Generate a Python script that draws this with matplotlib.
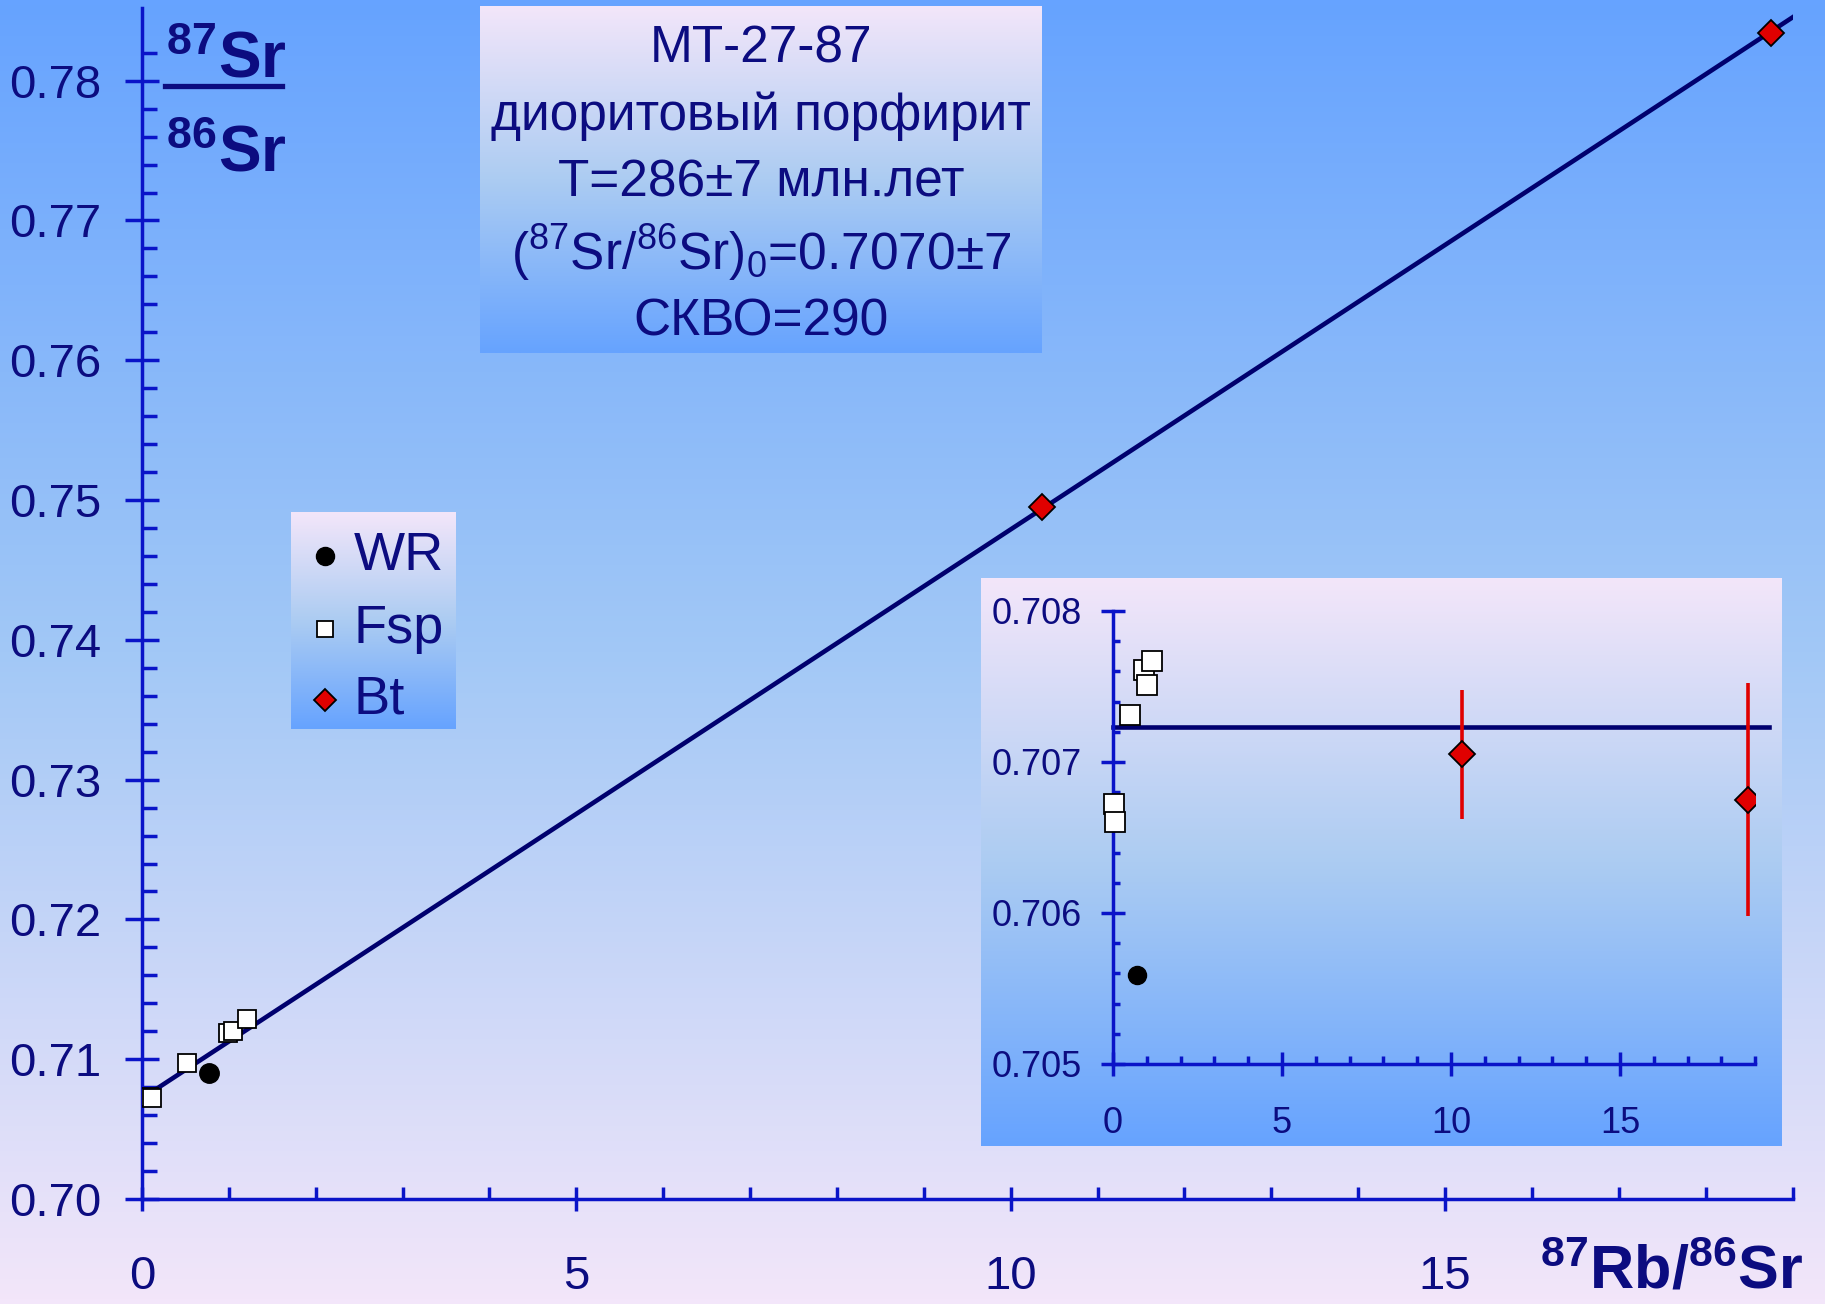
import numpy as np
import matplotlib
matplotlib.use("Agg")
import matplotlib.pyplot as plt
from matplotlib.colors import LinearSegmentedColormap
from matplotlib.lines import Line2D
from matplotlib.ticker import MultipleLocator, FixedLocator

plt.rcParams['font.family'] = ['Liberation Sans', 'DejaVu Sans']
plt.rcParams['mathtext.fontset'] = 'custom'
plt.rcParams['mathtext.rm'] = 'Liberation Sans'
plt.rcParams['mathtext.it'] = 'Liberation Sans:italic'
plt.rcParams['mathtext.bf'] = 'Liberation Sans:bold'

# --- data: main isochron (87Rb/86Sr, 87Sr/86Sr)
wr_x = [0.77]
wr_y = [0.7090]
fsp_x = [0.08, 0.12, 0.52, 0.99, 1.05, 1.21]
fsp_y = [0.7073, 0.7072, 0.7097, 0.7119, 0.7120, 0.7129]
bt_x = [10.36, 18.75]
bt_y = [0.7495, 0.7834]
fit_x = [0.1, 19.0]
fit_intercept = 0.7072
fit_slope = 0.00407

# --- data: inset (initial ratios)
in_wr_x = [0.70]
in_wr_y = [0.70559]
in_fsp_x = [0.02, 0.05, 0.49, 0.93, 1.00, 1.15]
in_fsp_y = [0.70672, 0.70660, 0.70731, 0.70761, 0.70751, 0.70767]
in_bt_x = [10.33, 18.78]
in_bt_y = [0.70705, 0.70675]
in_bt_err = [0.00043, 0.00077]
in_level = 0.70723
in_level_x = [0.0, 19.4]

title_lines = ['МТ-27-87', 'диоритовый порфирит', 'Т=286±7 млн.лет',
               '(' + r'$^{87}$' + 'Sr/' + r'$^{86}$' + 'Sr)' + r'$_0$' + '=0.7070±7',
               'СКВО=290']

NAVY = '#0c0c80'
SPINE = '#0a14c8'
LINE = '#00006e'
RED = '#e00000'

fig = plt.figure(figsize=(18.25, 13.04), dpi=100)
W, H = 1825, 1304


def rect(x0, y0, x1, y1):
    return [x0 / W, 1 - y1 / H, (x1 - x0) / W, (y1 - y0) / H]


def gradient_box(r, colors, z=0):
    a = fig.add_axes(r, zorder=z)
    cmap = LinearSegmentedColormap.from_list('g', colors)
    a.imshow(np.linspace(0, 1, 256).reshape(-1, 1), aspect='auto', cmap=cmap,
             extent=[0, 1, 0, 1], origin='upper')
    a.set_xlim(0, 1)
    a.set_ylim(0, 1)
    a.axis('off')
    return a


# page background: blue at top, lavender at bottom
gradient_box([0, 0, 1, 1], [(0.0, '#66a3ff'), (0.5, '#a2c8f6'), (1.0, '#f3e6fa')], z=-5)
box_colors = [(0.0, '#f3e6fa'), (0.5, '#acccf2'), (1.0, '#66a3ff')]

# --- main axes
ax = fig.add_axes(rect(142, 8, 142 + 19 * 86.87, 1199))
ax.patch.set_alpha(0)
ax.set_xlim(0, 19)
ax.set_ylim(0.70, 0.7852)
for s in ['top', 'right']:
    ax.spines[s].set_visible(False)
for s in ['left', 'bottom']:
    ax.spines[s].set_color(SPINE)
    ax.spines[s].set_linewidth(2.5)

ax.xaxis.set_major_locator(FixedLocator([0, 5, 10, 15]))
ax.xaxis.set_minor_locator(MultipleLocator(1))
ax.yaxis.set_major_locator(MultipleLocator(0.01))
ax.yaxis.set_minor_locator(FixedLocator(np.arange(0.70, 0.7835, 0.002)))
ax.yaxis.set_major_formatter(matplotlib.ticker.FormatStrFormatter('%.2f'))
ax.tick_params(axis='y', which='major', direction='inout', length=24, width=2.5,
               color=SPINE, labelsize=34, labelcolor=NAVY, pad=17)
ax.tick_params(axis='y', which='minor', direction='in', length=11, width=2.5, color=SPINE)
ax.tick_params(axis='x', which='major', direction='inout', length=17, width=2.5,
               color=SPINE, labelsize=34, labelcolor=NAVY, pad=32)
ax.tick_params(axis='x', which='minor', direction='in', length=9, width=2.5, color=SPINE)

fx = np.array(fit_x)
ax.plot(fx, fit_intercept + fit_slope * fx, color=LINE, lw=3.3, zorder=2)
ax.plot(wr_x, wr_y, 'o', color='black', ms=14, zorder=3)
ax.plot(fsp_x, fsp_y, 's', mfc='white', mec='black', mew=1.3, ms=13.5, zorder=4)
ax.plot(bt_x, bt_y, 'D', mfc=RED, mec='black', mew=1.3, ms=13, zorder=4, clip_on=False)

# axis titles
fig.text(166 / W, 1 - 78 / H, r'$\mathbf{^{87}Sr}$', fontsize=46, color=NAVY,
         ha='left', va='baseline')
fig.text(166 / W, 1 - 172 / H, r'$\mathbf{^{86}Sr}$', fontsize=46, color=NAVY,
         ha='left', va='baseline')
fig.add_artist(Line2D([165 / W, 282 / W], [1 - 86 / H, 1 - 86 / H], color=NAVY, lw=3.8))
fig.text(1804 / W, 1 - 1289 / H, r'$\mathbf{^{87}Rb/^{86}Sr}$', fontsize=44, color=NAVY,
         ha='right', va='baseline')

# --- title box
gradient_box(rect(480, 6, 1042, 353), box_colors, z=1)
for txt, yy in zip(title_lines, [49, 116, 183, 253, 322]):
    fig.text(761 / W, 1 - yy / H, txt, fontsize=37, color=NAVY, ha='center', va='center')

# --- legend box
lg = gradient_box(rect(291, 512, 456, 729), box_colors, z=1)
lg.set_zorder(2)
leg_y = [0.797, 0.461, 0.134]
lg.plot([0.206], [leg_y[0]], 'o', color='black', ms=13)
lg.plot([0.206], [leg_y[1]], 's', mfc='white', mec='black', mew=1.3, ms=12)
lg.plot([0.206], [leg_y[2]], 'D', mfc=RED, mec='black', mew=1.3, ms=11)
for lab, yy in zip(['WR', 'Fsp', 'Bt'], leg_y):
    lg.text(0.38, yy, lab, fontsize=39, color=NAVY, ha='left', va='center')

# --- inset
gradient_box(rect(981, 578, 1781, 1146), box_colors, z=1)
ins = fig.add_axes(rect(1113, 611, 1113 + 19 * 33.8, 1064), zorder=3)
ins.patch.set_alpha(0)
ins.set_xlim(0, 19)
ins.set_ylim(0.705, 0.708)
for s in ['top', 'right']:
    ins.spines[s].set_visible(False)
for s in ['left', 'bottom']:
    ins.spines[s].set_color(SPINE)
    ins.spines[s].set_linewidth(2.5)
ins.xaxis.set_major_locator(FixedLocator([0, 5, 10, 15]))
ins.xaxis.set_minor_locator(MultipleLocator(1))
ins.yaxis.set_major_locator(MultipleLocator(0.001))
ins.yaxis.set_minor_locator(MultipleLocator(0.0002))
ins.yaxis.set_major_formatter(matplotlib.ticker.FormatStrFormatter('%.3f'))
ins.tick_params(axis='y', which='major', direction='inout', length=17, width=2.5,
                color=SPINE, labelsize=26, labelcolor=NAVY, pad=14)
ins.tick_params(axis='y', which='minor', direction='in', length=5, width=2.5, color=SPINE)
ins.tick_params(axis='x', which='major', direction='inout', length=17, width=2.5,
                color=SPINE, labelsize=26, labelcolor=NAVY, pad=22)
ins.tick_params(axis='x', which='minor', direction='in', length=5.5, width=2.5, color=SPINE)

ins.plot(in_level_x, [in_level, in_level], color=LINE, lw=3.3, clip_on=False, zorder=2)
ins.errorbar(in_bt_x, in_bt_y, yerr=in_bt_err, fmt='none', ecolor=RED, elinewidth=2.6,
             capsize=0, zorder=3)
ins.plot(in_wr_x, in_wr_y, 'o', color='black', ms=13, zorder=4)
ins.plot(in_fsp_x, in_fsp_y, 's', mfc='white', mec='black', mew=1.3, ms=14, zorder=4,
         clip_on=False)
ins.plot(in_bt_x, in_bt_y, 'D', mfc=RED, mec='black', mew=1.3, ms=13, zorder=5)

fig.savefig('out.png', dpi=100)
